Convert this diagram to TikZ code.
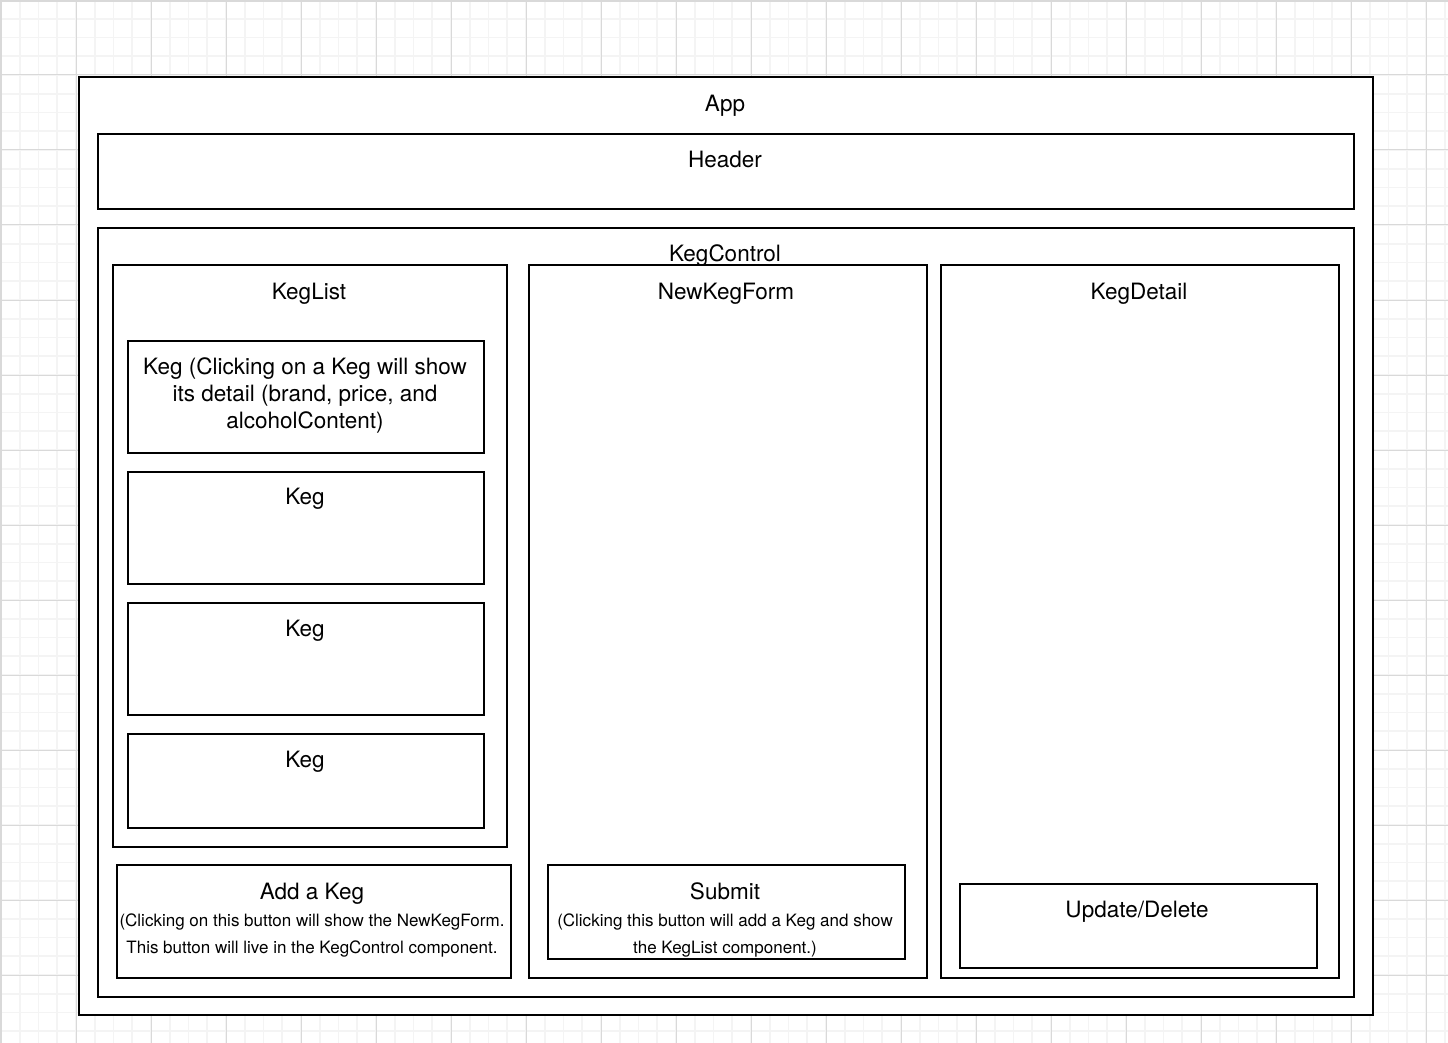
\documentclass[tikz,border=0pt]{standalone}
\usepackage{fontspec}
\setmainfont{TeX Gyre Heros}
\usepackage{tikz}
\usetikzlibrary{positioning}
\definecolor{gridmajor}{HTML}{D9D9D9}
\definecolor{gridminor}{HTML}{F4F4F4}

\begin{document}
\begin{tikzpicture}[
                x=1pt, y=-1pt,
                font=\fontsize{22.5}{27}\selectfont,
                box/.style={rectangle, draw=black, line width=1.7pt, fill=white, inner sep=0pt},
                title/.style={inner sep=0pt, align=center},
                note/.style={inner sep=0pt, align=center, font=\fontsize{17}{27}\selectfont},
                minorline/.style={draw=gridminor, line width=1.6pt},
                majorline/.style={draw=gridmajor, line width=1pt},
            ]
            \useasboundingbox (0,0) rectangle (1448,1043);
            % background grid
            \foreach \k in {0,...,77} {
                \draw[minorline] ({1+18.75*\k},0) -- ({1+18.75*\k},1043);
            }
            \foreach \k in {0,...,55} {
                \draw[minorline] (0,{18.75*\k}) -- (1448,{18.75*\k});
            }
            \foreach \k in {0,...,19} {
                \draw[majorline] ({1+75*\k},0) -- ({1+75*\k},1043);
            }
            \foreach \k in {1,...,13} {
                \draw[majorline] (0,{75*\k}) -- (1448,{75*\k});
            }
            \draw[gridmajor, line width=2pt] (1,1043) -- (1,1) -- (1448,1);

            % components
            \node[box, minimum width=1294, minimum height=938] (app) at (726, 546) {};
            \node[title] (apptitle) at (725, 106) {App};
            \node[box, minimum width=1256, minimum height=75] (header) at (726, 171.5) {};
            \node[title] (headertitle) at (725, 159) {Header};
            \node[box, minimum width=1256, minimum height=769] (kegcontrol) at (726, 612.5) {};
            \node[title] (kegcontroltitle) at (725, 256) {KegControl};

            \node[box, minimum width=394, minimum height=582] (keglist) at (310, 556) {};
            \node[title] (keglisttitle) at (309, 294) {KegList};
            \node[box, minimum width=356, minimum height=112] (kegone) at (306, 397) {};
            \node[title] (kegonetext) at (305, 395)
            {Keg (Clicking on a Keg will show\\its detail (brand, price, and\\alcoholContent)};
            \node[box, minimum width=356, minimum height=112] (kegtwo) at (306, 528) {};
            \node[title] (kegtwotitle) at (305, 499) {Keg};
            \node[box, minimum width=356, minimum height=112] (kegthree) at (306, 659) {};
            \node[title] (kegthreetitle) at (305, 631) {Keg};
            \node[box, minimum width=356, minimum height=94] (kegfour) at (306, 781) {};
            \node[title] (kegfourtitle) at (305, 762) {Keg};

            \node[box, minimum width=394, minimum height=113] (addkeg) at (314, 921.5) {};
            \node[title] (addkegtitle) at (312, 894) {Add a Keg};
            \node[note] (addkegnote) at (312, 935)
            {(Clicking on this button will show the NewKegForm.\\This button will live in the KegControl component.};

            \node[box, minimum width=398, minimum height=713] (newkegform) at (728, 621.5) {};
            \node[title] (newkegformtitle) at (726, 294) {NewKegForm};
            \node[box, minimum width=357, minimum height=94] (submit) at (726.5, 912) {};
            \node[title] (submittitle) at (725, 891.5) {Submit};
            \node[note] (submitnote) at (725, 935)
            {(Clicking this button will add a Keg and show\\the KegList component.)};

            \node[box, minimum width=398, minimum height=713] (kegdetail) at (1140, 621.5) {};
            \node[title] (kegdetailtitle) at (1139, 294) {KegDetail};
            \node[box, minimum width=357, minimum height=84] (updatedelete) at (1138.5, 926) {};
            \node[title] (updatedeletetitle) at (1137, 912) {Update/Delete};
        \end{tikzpicture}
\end{document}
